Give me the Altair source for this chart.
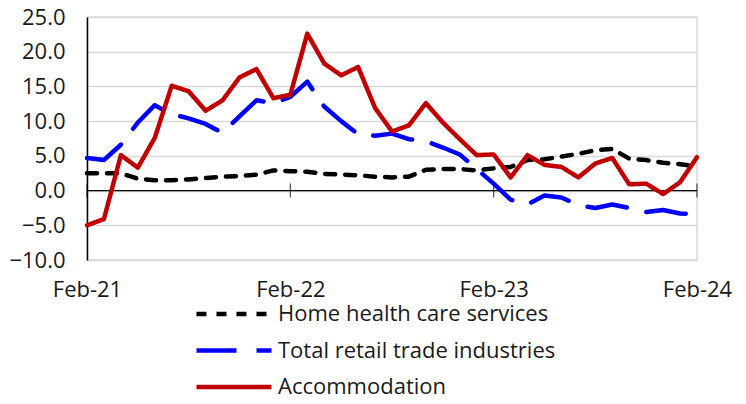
import altair as alt
import pandas as pd

months = list(pd.date_range("2021-02-01", periods=37, freq="MS").strftime("%b-%y"))
tick_months = ["Feb-21", "Feb-22", "Feb-23", "Feb-24"]
series_names = ["Home health care services", "Total retail trade industries", "Accommodation"]

home_health = [2.5, 2.5, 2.5, 1.7, 1.5, 1.5, 1.6, 1.8, 2.0, 2.1, 2.3, 2.9, 2.8,
               2.7, 2.4, 2.3, 2.2, 2.0, 1.9, 2.0, 3.0, 3.1, 3.1, 2.9, 3.2,
               3.4, 4.4, 4.5, 4.9, 5.3, 5.8, 6.0, 4.6, 4.4, 4.0, 3.8, 3.5]
retail = [4.7, 4.4, 6.6, 9.8, 12.3, 11.0, 10.4, 9.6, 8.3, 10.7, 13.0, 12.6, 13.5,
          15.7, 12.1, 10.0, 8.1, 7.9, 8.2, 7.4, 7.1, 6.2, 5.2, 3.1, 1.0,
          -1.3, -2.0, -0.7, -1.0, -2.1, -2.5, -2.0, -2.5, -3.1, -2.8, -3.3, -3.4]
accommodation = [-5.0, -4.1, 5.1, 3.3, 7.6, 15.1, 14.3, 11.5, 13.0, 16.3, 17.5, 13.3, 13.8,
                 22.6, 18.3, 16.6, 17.8, 11.9, 8.5, 9.4, 12.6, 9.8, 7.4, 5.1, 5.2,
                 1.9, 5.1, 3.7, 3.4, 1.9, 3.9, 4.7, 0.9, 1.0, -0.5, 1.2, 4.8]
y_ticks = [-10, -5, 0, 5, 10, 15, 20, 25]

rows = []
for name, vals in zip(series_names, [home_health, retail, accommodation]):
    for m, v in zip(months, vals):
        rows.append({"month": m, "value": v, "series": name})
df = pd.DataFrame(rows)

FONT = "Open Sans"
FS = 22
TEXT = "#1a1a1a"

x_scale = alt.Scale(type="point", domain=months, padding=0)
y_scale = alt.Scale(domain=[-10, 25], nice=False)

x_axis = alt.Axis(values=tick_months, labelAngle=0, domain=False, ticks=False, grid=False,
                  title=None, labelPadding=19, labelFontSize=FS, labelFont=FONT,
                  labelColor=TEXT, labelOverlap=False)
y_axis = alt.Axis(values=y_ticks, format=".1f", title=None,
                  domainColor="#000000", domainWidth=1.5, ticks=False, labelPadding=22,
                  labelFontSize=FS, labelFont=FONT, labelColor=TEXT, labelOverlap=False,
                  gridColor="#d9d9d9", gridWidth=1.5)

legend_kw = dict(title=None, orient="none", legendX=132, legendY=282, direction="vertical",
                 symbolType="M-3,0H3", symbolSize=625, symbolStrokeWidth=4.5,
                 labelFontSize=FS, labelFont=FONT, labelColor=TEXT, rowPadding=10.5,
                 labelOffset=29, padding=0, labelLimit=400)

lines = alt.Chart(df).mark_line(strokeWidth=4.5, strokeCap="round", strokeJoin="round").encode(
    x=alt.X("month:O", scale=x_scale, sort=months, axis=x_axis),
    y=alt.Y("value:Q", scale=y_scale, axis=y_axis),
    color=alt.Color("series:N", sort=series_names,
                    scale=alt.Scale(domain=series_names, range=["#000000", "#0000FF", "#C00000"]),
                    legend=alt.Legend(**legend_kw)),
    strokeDash=alt.StrokeDash("series:N", sort=series_names,
                              scale=alt.Scale(domain=series_names,
                                              range=[[10, 10], [40, 20], [1, 0]]),
                              legend=alt.Legend(**legend_kw)),
)

zero = alt.Chart(pd.DataFrame({"y": [0]})).mark_rule(color="#000000", strokeWidth=1.2).encode(
    y=alt.Y("y:Q", scale=y_scale, axis=y_axis)
)

ticks = alt.Chart(pd.DataFrame({"month": tick_months, "y": [0] * len(tick_months)})).mark_tick(
    orient="vertical", size=14, thickness=1.2, color="#000000"
).encode(
    x=alt.X("month:O", scale=x_scale, sort=months, axis=x_axis),
    y=alt.Y("y:Q", scale=y_scale, axis=y_axis),
)

chart = alt.layer(zero, ticks, lines).properties(
    width=610, height=243,
    autosize=alt.AutoSizeParams(type="none"),
    padding={"left": 79, "top": 9, "right": 40, "bottom": 136},
).configure_view(stroke="#d9d9d9", strokeWidth=1.5)

chart.save("out.html", embed_options={"renderer": "svg", "actions": False})
